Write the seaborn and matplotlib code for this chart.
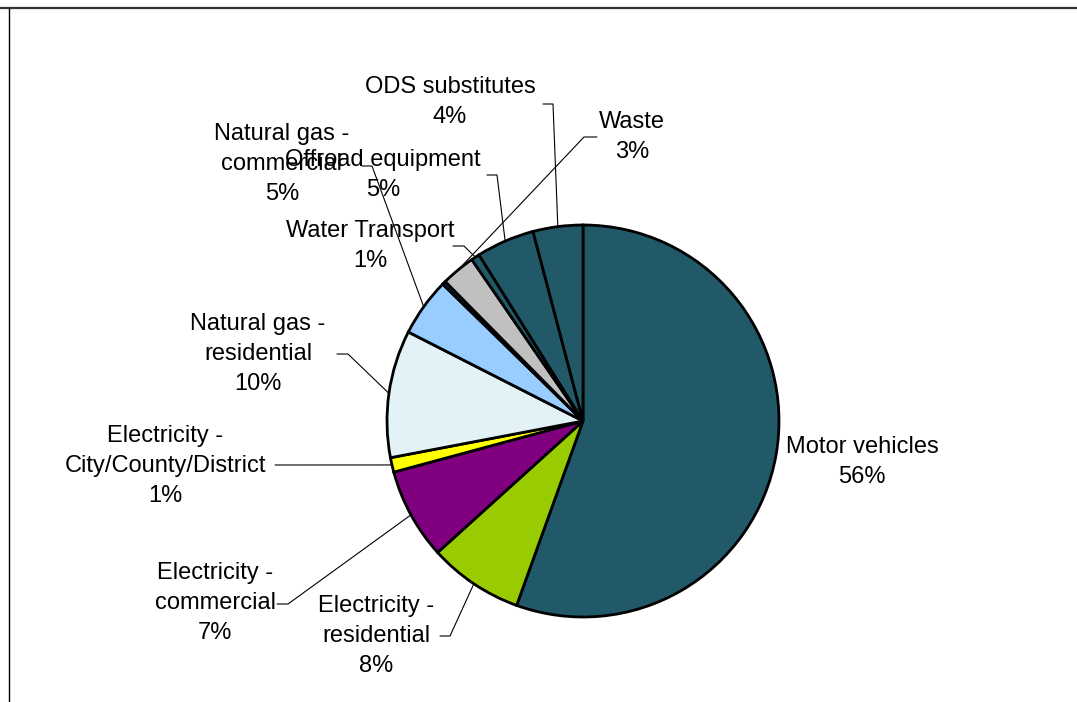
"""
Pie chart of emission sources by sector, with leader-line labels.
"""
import numpy as np
import matplotlib.pyplot as plt
import seaborn as sns

# Data (clockwise from 12 o'clock)
sectors = ['Motor vehicles', 'Electricity - residential', 'Electricity - commercial',
           'Electricity - City/County/District', 'Natural gas - residential',
           'Natural gas - commercial', 'Other', 'Waste', 'Water Transport',
           'Offroad equipment', 'ODS substitutes']
shares = [55.5, 7.8, 7.5, 1.2, 10.5, 4.8, 0.3, 2.8, 0.7, 4.8, 4.1]
label_texts = ['Motor vehicles\n56%', 'Electricity -\nresidential\n8%',
               'Electricity -\ncommercial\n7%', 'Electricity -\nCity/County/District\n1%',
               'Natural gas -\nresidential\n10%', 'Natural gas -\ncommercial\n5%', '',
               'Waste\n3%', 'Water Transport\n1%', 'Offroad equipment\n5%',
               'ODS substitutes\n4%']
slice_colors = ['#215968', '#99CC00', '#800080', '#FFFF00', '#E2F2F6', '#99CCFF',
                '#17375E', '#C0C0C0', '#215968', '#215968', '#215968']

# Layout (pixel space, y measured from top)
W, H = 1077, 702
center_px = (583, 421)
radius_px = 196
# text centre, leader start, leader knee (None = no leader)
label_layout = [
    ((862, 462), None, None),
    ((376, 636), (440, 636), (450, 636)),
    ((215, 603), (277, 604), (288, 604)),
    ((165, 466), (275, 465), (275, 465)),
    ((258, 354), (337, 354), (348, 354)),
    ((282, 164), (362, 166), (372, 166)),
    (None, None, None),
    ((632, 137), (597, 137), (584, 137)),
    ((370, 246), (453, 246), (464, 246)),
    ((383, 175), (487, 175), (497, 175)),
    ((450, 102), (543, 104), (553, 104)),
]


def px(point):
    return point[0], H - point[1]


sns.set_theme(style='white')
plt.rcParams['font.family'] = ['Liberation Sans', 'DejaVu Sans']

fig = plt.figure(figsize=(W / 100, H / 100), dpi=100)
ax = fig.add_axes([0, 0, 1, 1])

# Draw the pie
wedges, _ = ax.pie(shares,
                   colors=sns.color_palette(slice_colors),
                   startangle=90,
                   counterclock=False,
                   center=px(center_px),
                   radius=radius_px,
                   wedgeprops=dict(edgecolor='black', linewidth=2))

ax.set_xlim(0, W)
ax.set_ylim(0, H)
ax.set_aspect('equal')
ax.axis('off')

# Labels and leader lines
for wedge, text, (pos, start, knee) in zip(wedges, label_texts, label_layout):
    if pos is None:
        continue
    ax.text(*px(pos), text, ha='center', va='center', fontsize=17,
            color='black', linespacing=1.45)
    if start is None:
        continue
    mid = np.deg2rad((wedge.theta1 + wedge.theta2) / 2)
    anchor = (wedge.center[0] + wedge.r * np.cos(mid),
              wedge.center[1] + wedge.r * np.sin(mid))
    xs = [px(start)[0], px(knee)[0], anchor[0]]
    ys = [px(start)[1], px(knee)[1], anchor[1]]
    ax.plot(xs, ys, color='black', linewidth=0.8)

# Partial frame (top and left edges)
fig.add_artist(plt.Line2D([0, 1], [1 - 7.5 / H, 1 - 7.5 / H],
                          transform=fig.transFigure, color='#333333', linewidth=1.6))
fig.add_artist(plt.Line2D([8.5 / W, 8.5 / W], [0, 1 - 7.5 / H],
                          transform=fig.transFigure, color='black', linewidth=1.0))

fig.savefig('out.png', dpi=100, facecolor='white')
